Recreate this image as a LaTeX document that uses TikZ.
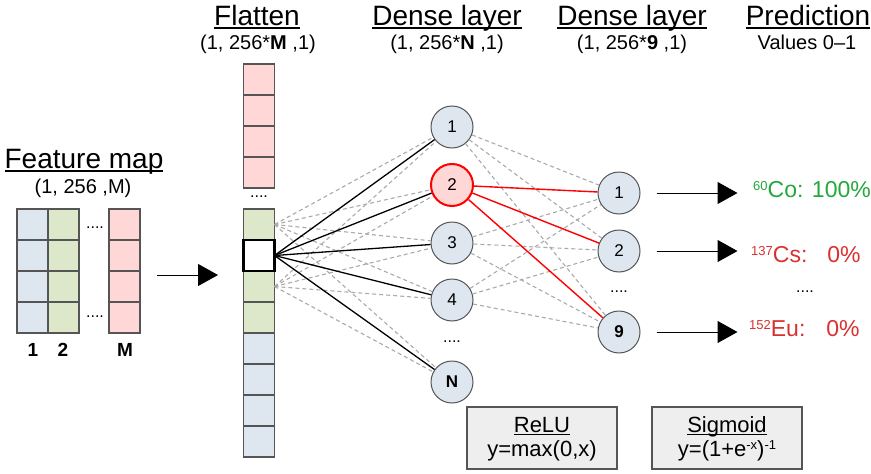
\documentclass[tikz,border=0pt]{standalone}
\usepackage{fontspec}
\setmainfont{Liberation Sans}
\usetikzlibrary{arrows.meta}

\definecolor{cellblue}{HTML}{DEE6EF}
\definecolor{cellgreen}{HTML}{DDE8CB}
\definecolor{cellpink}{HTML}{FFD7D7}
\definecolor{edgegray}{HTML}{555555}
\definecolor{dashgray}{HTML}{AAAAAA}
\definecolor{predgreen}{HTML}{22A83C}
\definecolor{predred}{HTML}{D93030}
\definecolor{boxfill}{HTML}{EEEEEE}

% underline at a fixed distance below the baseline
\newcommand\ulin[1]{\setbox0=\hbox{#1}\rlap{\rule[-0.13em]{\wd0}{0.055em}}\box0}
% small raised figures (isotope masses, exponents)
\newcommand\supx[1]{\raisebox{7pt}{\fontsize{13}{13}\selectfont #1}}

\begin{document}
\begin{tikzpicture}[x=1pt,y=-1pt,
  every node/.style={font=\fontsize{20}{22}\selectfont},
  cell/.style={draw=edgegray, line width=1.1pt, minimum width=31pt, minimum height=31pt, inner sep=0pt, outer sep=0pt},
  neuron/.style={circle, draw=edgegray, line width=1pt, fill=cellblue, minimum size=42pt, inner sep=0pt, font=\fontsize{17}{17}\selectfont},
  hot/.style={draw=red, line width=2pt, fill=cellpink},
  title/.style={font=\fontsize{28}{30}\selectfont, anchor=base, inner sep=0pt},
  subtitle/.style={font=\fontsize{20}{22}\selectfont, anchor=base, inner sep=0pt},
  dots/.style={font=\fontsize{16}{16}\selectfont, inner sep=0pt},
  colnum/.style={font=\fontsize{19}{21}\selectfont\bfseries, inner sep=0pt},
  solidlink/.style={line width=1.3pt, black},
  hotlink/.style={line width=1.4pt, red},
  dashlink/.style={line width=1.1pt, dashgray, dash pattern=on 4pt off 3pt},
  outarrow/.style={line width=1pt, -{Triangle[length=20pt,width=22pt]}},
  fnbox/.style={draw=edgegray, line width=1.2pt, fill=boxfill, minimum width=150pt, minimum height=62pt, inner sep=0pt},
  fntext/.style={font=\fontsize{22}{24}\selectfont, anchor=base, inner sep=0pt},
  pred/.style={font=\fontsize{23}{25}\selectfont, anchor=base west, inner sep=0pt},
]
\useasboundingbox (0,0) rectangle (871,474);

% ---- headers ----
\node[title] (tfeat) at (84,168) {\ulin{Feature map}};
\node[subtitle] (sfeat) at (83,193) {(1, 256 ,M)};
\node[title] (tflat) at (257,25) {\ulin{Flatten}};
\node[subtitle] (sflat) at (258,49) {(1, 256*\textbf{M} ,1)};
\node[title] (tdense1) at (447,25) {\ulin{Dense layer}};
\node[subtitle] (sdense1) at (447,49) {(1, 256*\textbf{N} ,1)};
\node[title] (tdense2) at (632,25) {\ulin{Dense layer}};
\node[subtitle] (sdense2) at (632,49) {(1, 256*\textbf{9} ,1)};
\node[title] (tpred) at (808,25) {\ulin{Prediction}};
\node[subtitle] (spred) at (807,49) {Values 0--1};

% ---- feature map ----
\foreach \r/\yy in {1/224.5,2/255.5,3/286.5,4/317.5}{
  \node[cell, fill=cellblue] (fa\r) at (32.5,\yy) {};
  \node[cell, fill=cellgreen] (fb\r) at (63.5,\yy) {};
  \node[cell, fill=cellpink] (fm\r) at (124.5,\yy) {};
}
\node[dots] (fdots1) at (95,228) {....};
\node[dots] (fdots2) at (95,317) {....};
\node[colnum] (n1) at (33,350) {1};
\node[colnum] (n2) at (63,350) {2};
\node[colnum] (nM) at (125,350) {M};

\coordinate (arrS) at (157,275);
\coordinate (arrE) at (218,275);
\draw[outarrow] (arrS) -- (arrE);

% ---- flattened vector ----
\foreach \r/\yy in {1/79.5,2/110.5,3/141.5,4/172.5}{
  \node[cell, fill=cellpink] (ft\r) at (259,\yy) {};
}
\node[dots] (flatdots) at (259,197) {....};
\node[cell, fill=cellgreen] (f1) at (259,224.5) {};
\node[cell, fill=cellgreen] (f3) at (259,286.5) {};
\node[cell, fill=cellgreen] (f4) at (259,317.5) {};
\foreach \r/\yy in {5/348.5,6/379.5,7/410.5,8/441.5}{
  \node[cell, fill=cellblue] (f\r) at (259,\yy) {};
}
\node[cell, fill=white, draw=black, line width=2.5pt] (f2) at (259,255.5) {};

% ---- first dense layer ----
\node[neuron] (h1) at (452,127) {1};
\node[neuron, hot] (h2) at (452,185) {2};
\node[neuron] (h3) at (452,243) {3};
\node[neuron] (h4) at (452,300) {4};
\node[dots] (hdots) at (452,342) {....};
\node[neuron, font=\fontsize{17}{17}\selectfont\bfseries] (hN) at (452,382) {N};

% ---- second dense layer ----
\node[neuron] (o1) at (619,193) {1};
\node[neuron] (o2) at (619,251) {2};
\node[dots] (odots) at (619,292) {....};
\node[neuron, font=\fontsize{17}{17}\selectfont\bfseries] (o9) at (619,332) {9};

% ---- connections ----
\foreach \h in {h1,h2,h3,h4,hN}{
  \draw[dashlink] (f1.east) -- (\h);
  \draw[dashlink] (f3.east) -- (\h);
}
\foreach \h in {h1,h2,h3,h4,hN}{
  \draw[solidlink] (f2.east) -- (\h);
}
\foreach \h in {h1,h3,h4}{
  \foreach \o in {o1,o2,o9}{
    \draw[dashlink] (\h) -- (\o);
  }
}
\foreach \o in {o1,o2,o9}{
  \draw[hotlink] (h2) -- (\o);
}

% ---- predictions ----
\node[pred, text=predgreen] (p1) at (753,197) {\supx{60}Co: 100\%};
\node[pred, text=predred] (p2) at (751,262) {\supx{137}Cs:\hspace{20pt}0\%};
\node[dots] (pdots) at (805,292) {....};
\node[pred, text=predred] (p9) at (749,336) {\supx{152}Eu:\hspace{21pt}0\%};

\foreach \o in {o1,o2,o9}{
  \draw[outarrow] ([xshift=16pt]\o.east) -- ([xshift=97pt]\o.east);
}

% ---- activation functions ----
\node[fnbox] (relu) at (542,438) {};
\node[fntext] (relut) at (542,432) {\ulin{ReLU}};
\node[fntext] (reluf) at (542,456) {y=max(0,x)};
\node[fnbox] (sigm) at (727,438) {};
\node[fntext] (sigmt) at (727,432) {\ulin{Sigmoid}};
\node[fntext] (sigmf) at (727,456) {y=(1+e\supx{-x})\supx{-1}};
\end{tikzpicture}
\end{document}
